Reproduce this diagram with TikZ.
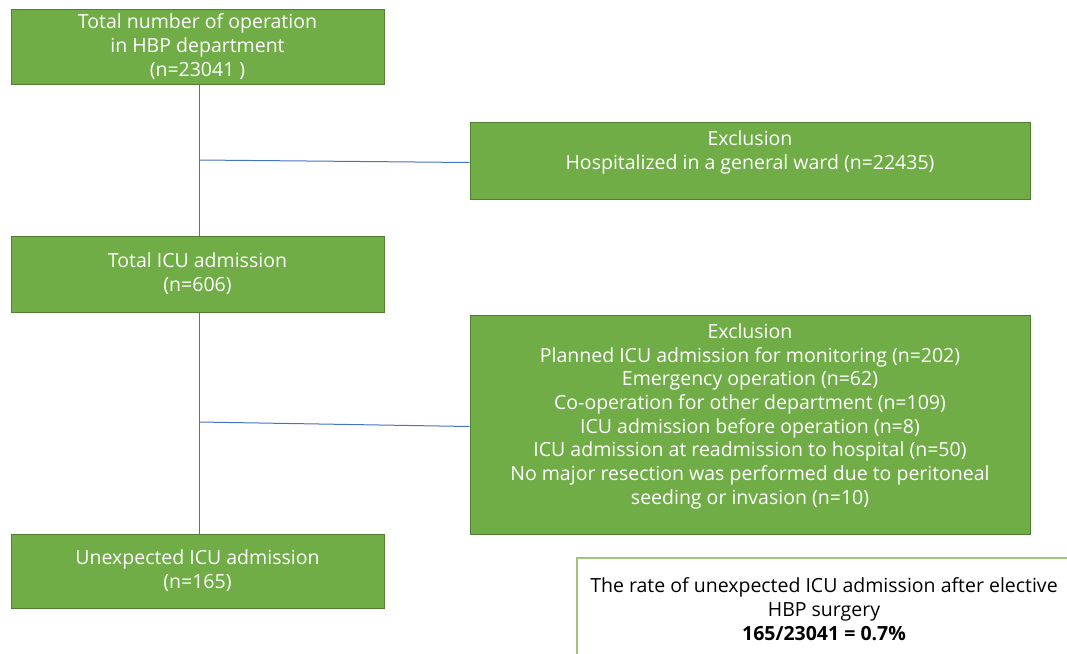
\documentclass[tikz,border=0pt]{standalone}
\usepackage{fontspec}
\setmainfont{Open Sans}
\definecolor{boxgreen}{HTML}{70AD47}
\definecolor{boxedge}{HTML}{507E32}
\definecolor{linkblue}{HTML}{4472C4}
\tikzset{
  flowbox/.style={draw=boxedge, fill=boxgreen, text=white, align=center,
    inner sep=0pt, line width=0.5pt, font=\fontsize{9.75}{12}\selectfont},
  exclbox/.style={flowbox, text depth=10.5pt},
  notebox/.style={draw=boxgreen!70, fill=white, text=black, align=center,
    inner sep=0pt, line width=0.6pt, font=\fontsize{9.75}{12}\selectfont},
  link/.style={draw=linkblue, line width=0.5pt}
}
\begin{document}
\begin{tikzpicture}[x=0.5pt,y=-0.5pt]
	\useasboundingbox (0,0) rectangle (1067,654);
	% left column
	\node[flowbox, minimum width=186.5pt, minimum height=37.5pt] (total) at (197.5,46.5)
		{Total number of operation\\in HBP department\\(n=23041 )};
	\node[flowbox, minimum width=186.5pt, minimum height=38pt] (icu) at (197.5,274)
		{Total ICU admission\\(n=606)};
	\node[flowbox, minimum width=186.5pt, minimum height=37pt] (unexp) at (197.5,571)
		{Unexpected ICU admission\\(n=165)};
	% exclusions
	\node[exclbox, minimum width=280pt, minimum height=38.5pt] (excla) at (750,160.5)
		{Exclusion\\Hospitalized in a general ward (n=22435)};
	\node[exclbox, minimum width=280pt, minimum height=109.5pt,
		font=\fontsize{9.75}{11.85}\selectfont] (exclb) at (750,424.5)
		{Exclusion\\Planned ICU admission for monitoring (n=202)\\Emergency operation (n=62)\\
		Co-operation for other department (n=109)\\ICU admission before operation (n=8)\\
		ICU admission at readmission to hospital (n=50)\\No major resection was performed due to peritoneal\\
		seeding or invasion (n=10)};
	% result
	\node[notebox, minimum width=247pt, minimum height=51pt] (rate) at (824,609)
		{The rate of unexpected ICU admission after elective\\HBP surgery\\\textbf{165/23041 = 0.7\%}};
	% connectors
	\coordinate (ja) at (199,160);
	\coordinate (jb) at (199,422);
	\draw[link] (total.south -| ja) -- (icu.north -| ja);
	\draw[link] (icu.south -| jb) -- (unexp.north -| jb);
	\draw[link] (ja) -- ([yshift=-1pt]excla.west);
	\draw[link] (jb) -- ([yshift=-1pt]exclb.west);
\end{tikzpicture}
\end{document}
